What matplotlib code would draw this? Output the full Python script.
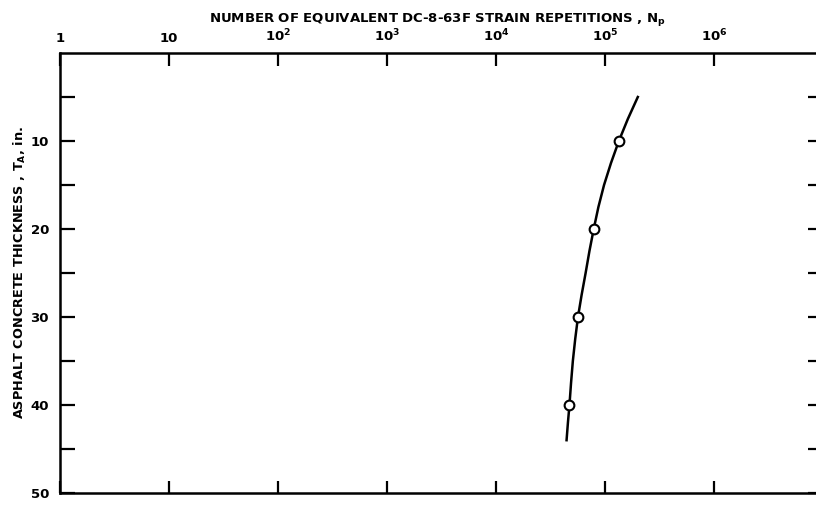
import matplotlib
matplotlib.use("Agg")
import matplotlib.pyplot as plt
import numpy as np

# measured points (thickness in inches vs repetitions)
thickness = [10, 20, 30, 40]
repetitions = [1.34e5, 7.88e4, 5.65e4, 4.72e4]

# faired curve through the points
curve_thickness = [5, 7.5, 10, 12.5, 15, 17.5, 20, 22.5, 25, 27.5, 30,
                   32.5, 35, 37.5, 40, 42, 44]
curve_repetitions = [2.0e5, 1.62e5, 1.34e5, 1.135e5, 9.8e4, 8.7e4, 7.88e4, 7.2e4,
                     6.64e4, 6.1e4, 5.65e4, 5.33e4, 5.07e4, 4.88e4, 4.72e4, 4.57e4, 4.44e4]

x_ticks = [1, 10, 1e2, 1e3, 1e4, 1e5, 1e6]
x_labels = ["1", "10", "$10^2$", "$10^3$", "$10^4$", "$10^5$", "$10^6$"]
y_labelled = [10, 20, 30, 40, 50]

plt.rcParams["font.family"] = ["DejaVu Sans"]
plt.rcParams["mathtext.fontset"] = "dejavusans"
plt.rcParams["mathtext.default"] = "bf"

fig = plt.figure(figsize=(8.16, 5.07), dpi=100)
W, H = 816, 507
left, right, top, bottom = 60, 823, 53, 493
ax = fig.add_axes([left / W, 1 - bottom / H, (right - left) / W, (bottom - top) / H])

ax.plot(curve_repetitions, curve_thickness, color="black", lw=1.8, zorder=2,
        solid_joinstyle="round")
ax.plot(repetitions, thickness, "o", ms=7, mfc="white", mec="black", mew=1.5, zorder=3)

ax.set_xscale("log")
ax.set_xlim(1, 1e7)
ax.set_ylim(50, 0)

ax.xaxis.set_label_position("top")
ax.set_xticks(x_ticks)
ax.set_xticklabels(x_labels)
ax.xaxis.set_minor_locator(matplotlib.ticker.NullLocator())
ax.tick_params(axis="x", which="major", direction="in", length=9, width=1.6,
               top=True, bottom=True, labeltop=True, labelbottom=False,
               labelsize=9.5, pad=6)

y_ticks = np.arange(5, 51, 5)
ax.set_yticks(y_ticks)
ax.set_yticklabels([str(v) if v in y_labelled else "" for v in y_ticks])
ax.tick_params(axis="y", direction="in", length=11, width=1.6, left=True, right=True,
               labelsize=9.5, pad=8)
for lbl in ax.get_xticklabels() + ax.get_yticklabels():
    lbl.set_fontweight("bold")

for s in ax.spines.values():
    s.set_linewidth(1.8)

fig.text(437 / W, 1 - 20 / H, "NUMBER OF EQUIVALENT DC-8-63F STRAIN REPETITIONS , N$_p$",
         ha="center", va="center", fontsize=9.5, fontweight="bold")
fig.text(20 / W, 1 - 273 / H, "ASPHALT CONCRETE THICKNESS , T$_A$, in.",
         ha="center", va="center", rotation=90, fontsize=9.3, fontweight="bold")

fig.savefig("out.png", dpi=100)
